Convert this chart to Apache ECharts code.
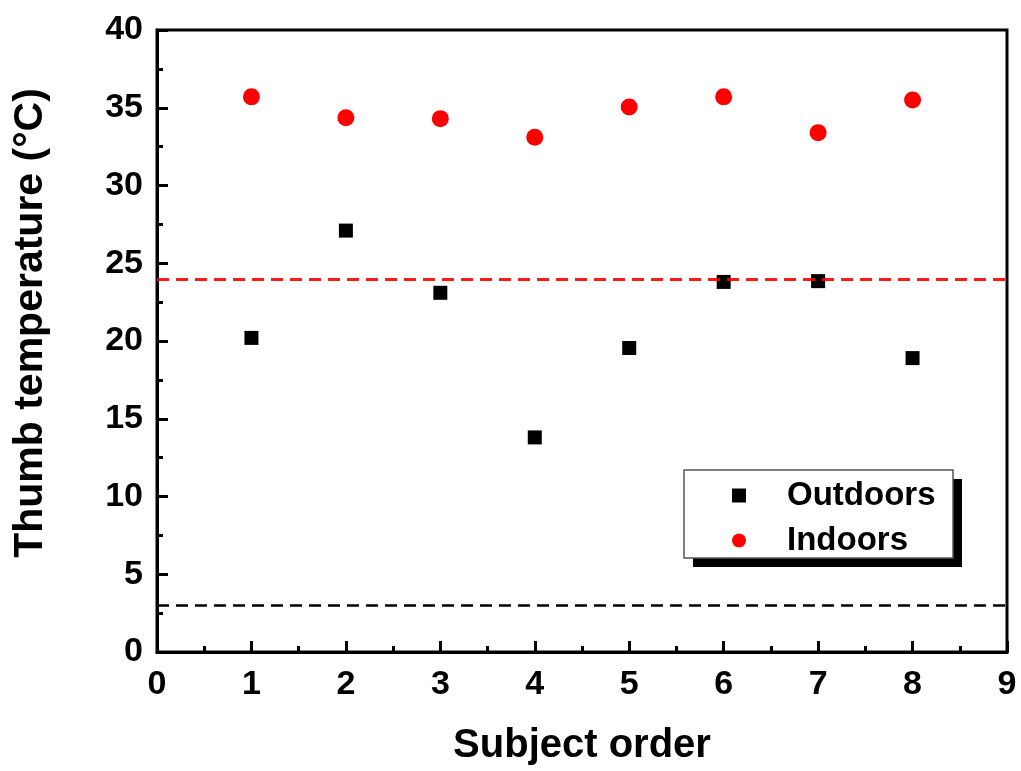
<!DOCTYPE html>
<html>
<head>
<meta charset="utf-8">
<script src="https://cdn.jsdelivr.net/npm/echarts@6/dist/echarts.min.js"></script>
<style>
html,body{margin:0;padding:0;background:#fff;}
#chart{width:1021px;height:771px;}
</style>
</head>
<body>
<div id="chart"></div>
<script>
const subjects = [1, 2, 3, 4, 5, 6, 7, 8];
const outdoors = [20.2, 27.1, 23.1, 13.8, 19.55, 23.8, 23.85, 18.9];
const indoors = [35.7, 34.35, 34.3, 33.1, 35.05, 35.7, 33.4, 35.5];
const indoorRef = 24;
const outdoorRef = 3;
const xTicks = [0, 1, 2, 3, 4, 5, 6, 7, 8, 9];
const yTicks = [0, 5, 10, 15, 20, 25, 30, 35, 40];

const font = '"Liberation Sans", Arial, sans-serif';
const chart = echarts.init(document.getElementById('chart'), null, {renderer: 'canvas'});

chart.setOption({
  backgroundColor: '#fff',
  animation: false,
  grid: {
    left: 157, top: 30, right: 14, bottom: 119,
    show: true, borderColor: '#000', borderWidth: 3, backgroundColor: 'transparent'
  },
  graphic: [
    {type: 'rect', z: 50, shape: {x: 693, y: 479, width: 269, height: 88}, style: {fill: '#000'}},
    {type: 'rect', z: 51, shape: {x: 684, y: 470, width: 269, height: 88}, style: {fill: '#fff', stroke: '#555', lineWidth: 1.5}}
  ],
  legend: {
    orient: 'vertical',
    left: 684, top: 470,
    z: 60,
    padding: [9, 16, 8, 48],
    itemGap: 12,
    itemWidth: 14, itemHeight: 14,
    textStyle: {fontFamily: font, fontWeight: 'bold', fontSize: 33, color: '#000', padding: [0, 0, 0, 36]},
    data: [
      {name: 'Outdoors', icon: 'rect', itemStyle: {color: '#000'}},
      {name: 'Indoors', icon: 'circle', itemStyle: {color: '#ff0000'}}
    ]
  },
  xAxis: {
    type: 'value', min: xTicks[0], max: xTicks[xTicks.length - 1], interval: 1,
    name: 'Subject order', nameLocation: 'middle', nameGap: 74,
    nameTextStyle: {fontFamily: font, fontWeight: 'bold', fontSize: 40, color: '#000'},
    axisLine: {show: true, lineStyle: {color: '#000', width: 3}},
    axisTick: {show: true, inside: true, length: 11, lineStyle: {color: '#000', width: 3}},
    minorTick: {show: true, splitNumber: 2, length: 6, lineStyle: {color: '#000', width: 3}},
    axisLabel: {fontFamily: font, fontWeight: 'bold', fontSize: 34, color: '#000', margin: 16},
    splitLine: {show: false}
  },
  yAxis: {
    type: 'value', min: yTicks[0], max: yTicks[yTicks.length - 1], interval: 5,
    name: 'Thumb temperature (°C)', nameLocation: 'middle', nameGap: 106,
    nameTextStyle: {fontFamily: font, fontWeight: 'bold', fontSize: 41, color: '#000', padding: [0, 0, 0, 36]},
    axisLine: {show: true, lineStyle: {color: '#000', width: 3}},
    axisTick: {show: true, inside: true, length: 11, lineStyle: {color: '#000', width: 3}},
    minorTick: {show: true, splitNumber: 2, length: 6, lineStyle: {color: '#000', width: 3}},
    axisLabel: {fontFamily: font, fontWeight: 'bold', fontSize: 34, color: '#000', margin: 14},
    splitLine: {show: false}
  },
  series: [
    {
      name: 'Outdoors', type: 'scatter', symbol: 'rect', symbolSize: 14,
      itemStyle: {color: '#000', opacity: 1},
      data: subjects.map((s, i) => [s, outdoors[i]]),
      markLine: {
        silent: true, symbol: 'none', label: {show: false},
        lineStyle: {color: '#000', type: [12, 7], width: 2.5, opacity: 1},
        data: [{yAxis: outdoorRef}]
      }
    },
    {
      name: 'Indoors', type: 'scatter', symbol: 'circle', symbolSize: 17,
      itemStyle: {color: '#ff0000', opacity: 1},
      data: subjects.map((s, i) => [s, indoors[i]]),
      markLine: {
        silent: true, symbol: 'none', label: {show: false},
        lineStyle: {color: '#ff0000', type: [12, 7], width: 3, opacity: 0.9},
        data: [{yAxis: indoorRef}]
      }
    }
  ]
});
</script>
</body>
</html>
